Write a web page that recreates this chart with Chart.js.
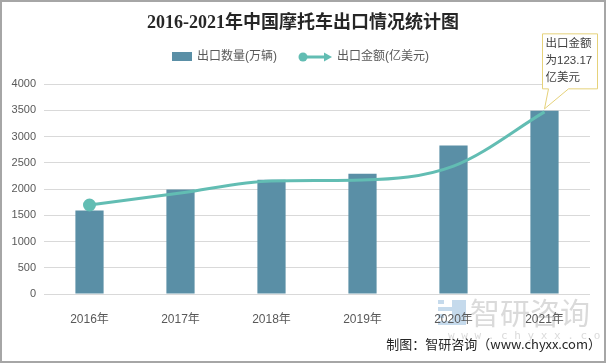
<!DOCTYPE html>
<html>
<head>
<meta charset="utf-8">
<script src="https://cdn.jsdelivr.net/npm/chart.js@4"></script>
<style>
html,body{margin:0;padding:0;background:#fff;}
#wrap{position:relative;width:606px;height:363px;}
canvas{display:block;}
</style>
</head>
<body>
<div id="wrap"><canvas id="c" width="606" height="363"></canvas></div>
<script>
const categories = ['2016年','2017年','2018年','2019年','2020年','2021年'];
const exportVolume = [1590, 1990, 2175, 2290, 2830, 3490];      // 出口数量(万辆)
const exportValue = [60.2, 68.3, 76.4, 77.1, 86.5, 123.17];     // 出口金额(亿美元)
const yTicks = [0, 500, 1000, 1500, 2000, 2500, 3000, 3500, 4000];
const titleText = '2016-2021年中国摩托车出口情况统计图';
const seriesNames = ['出口数量(万辆)', '出口金额(亿美元)'];
const calloutLines = ['出口金额', '为123.17', '亿美元'];
const sourceText = '制图：智研咨询（www.chyxx.com）';

const BAR = '#5a8fa6';
const LINE = '#62bdb3';
const TXT = '#595959';
const CJK = '"Liberation Sans","Noto Sans CJK SC",sans-serif';

const decor = {
  id: 'decor',
  beforeDraw(chart) {
    const ctx = chart.ctx;
    ctx.save();
    ctx.fillStyle = '#fff';
    ctx.fillRect(0, 0, chart.width, chart.height);
    // watermark
    ctx.fillStyle = 'rgba(150,150,150,0.35)';
    ctx.font = '30px "Noto Sans CJK SC",sans-serif';
    ctx.textBaseline = 'middle';
    ctx.textAlign = 'left';
    ctx.fillText('智研咨询', 470, 313);
    ctx.font = '11px "DejaVu Sans Mono",monospace';
    ctx.fillText('w w w . c h y x x . c o m', 448, 336);
    // logo
    ctx.fillStyle = 'rgba(90,150,200,0.35)';
    for (let i = 0; i < 4; i++) ctx.fillRect(438, 300 + i * 7, 6 + (i % 2) * 8, 4);
    ctx.fillRect(452, 300, 14, 25);
    ctx.restore();
  },
  afterDraw(chart) {
    const ctx = chart.ctx;
    ctx.save();
    // title
    ctx.fillStyle = '#262626';
    ctx.font = 'bold 18px "Liberation Serif","Noto Sans CJK SC",serif';
    ctx.textAlign = 'center';
    ctx.textBaseline = 'middle';
    ctx.fillText(titleText, 303, 23);
    // legend
    ctx.font = '12px ' + CJK;
    ctx.textAlign = 'left';
    ctx.fillStyle = BAR;
    ctx.fillRect(172, 52, 20, 9);
    ctx.fillStyle = TXT;
    ctx.fillText(seriesNames[0], 197, 57);
    ctx.strokeStyle = LINE;
    ctx.fillStyle = LINE;
    ctx.lineWidth = 3;
    ctx.beginPath(); ctx.moveTo(303, 57); ctx.lineTo(326, 57); ctx.stroke();
    ctx.beginPath(); ctx.arc(303, 57, 4.5, 0, Math.PI * 2); ctx.fill();
    ctx.beginPath(); ctx.moveTo(332, 57); ctx.lineTo(324, 52.5); ctx.lineTo(324, 61.5); ctx.closePath(); ctx.fill();
    ctx.fillStyle = TXT;
    ctx.fillText(seriesNames[1], 337, 57);
    // callout anchored at last line point
    const meta = chart.getDatasetMeta(1);
    const p = meta.data[meta.data.length - 1];
    const tx = p.x, ty = p.y - 3;
    const L = tx - 2, R = tx + 53, T = ty - 75, B = ty - 20;
    ctx.beginPath();
    ctx.moveTo(L, T); ctx.lineTo(R, T); ctx.lineTo(R, B);
    ctx.lineTo(tx + 24, B); ctx.lineTo(tx, ty); ctx.lineTo(tx + 4, B);
    ctx.lineTo(L, B); ctx.closePath();
    ctx.fillStyle = '#fff';
    ctx.fill();
    ctx.strokeStyle = '#e6d27a';
    ctx.lineWidth = 1;
    ctx.stroke();
    ctx.fillStyle = '#404040';
    ctx.font = '11.5px ' + CJK;
    calloutLines.forEach((s, i) => ctx.fillText(s, L + 3, T + 10 + i * 17));
    // source
    ctx.fillStyle = '#262626';
    ctx.font = '13px "Noto Sans CJK SC",sans-serif';
    ctx.textAlign = 'right';
    ctx.fillText(sourceText, 601, 344);
    // border
    ctx.strokeStyle = '#a6a6a6';
    ctx.lineWidth = 2;
    ctx.strokeRect(1, 1, chart.width - 2, chart.height - 2);
    ctx.restore();
  }
};

new Chart(document.getElementById('c'), {
  data: {
    labels: categories,
    datasets: [
      {
        type: 'bar',
        label: seriesNames[0],
        data: exportVolume,
        backgroundColor: BAR,
        categoryPercentage: 1,
        barPercentage: 0.31,
        yAxisID: 'y',
        order: 2
      },
      {
        type: 'line',
        label: seriesNames[1],
        data: exportValue,
        borderColor: LINE,
        backgroundColor: LINE,
        borderWidth: 3,
        cubicInterpolationMode: 'monotone',
        pointRadius: [5, 0, 0, 0, 0, 0],
        pointHoverRadius: 0,
        yAxisID: 'y1',
        order: 1
      }
    ]
  },
  plugins: [decor],
  options: {
    responsive: false,
    animation: false,
    devicePixelRatio: 1,
    layout: { padding: { top: 84, right: 16, bottom: 36, left: 0 } },
    plugins: { legend: { display: false }, tooltip: { enabled: false }, title: { display: false } },
    scales: {
      x: {
        grid: { display: false },
        border: { display: false },
        ticks: { color: TXT, font: { size: 12, family: CJK }, padding: 10 },
        afterFit(s) { s.height = 33; }
      },
      y: {
        min: 0, max: 4000,
        afterBuildTicks(s) { s.ticks = yTicks.map(v => ({ value: v })); },
        grid: { color: '#d9d9d9', drawTicks: false },
        border: { display: false },
        ticks: { color: TXT, font: { size: 11, family: '"Liberation Sans",sans-serif' }, padding: 8, callback: v => String(v) },
        afterFit(s) { s.width = 44; }
      },
      y1: {
        display: false,
        min: 0, max: 142
      }
    }
  }
});
</script>
</body>
</html>
